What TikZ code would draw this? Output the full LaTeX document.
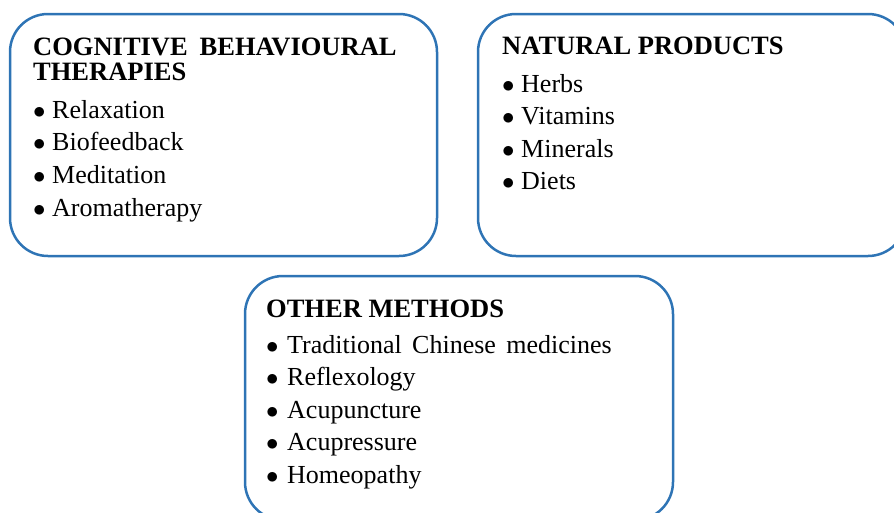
\documentclass[tikz,border=0pt]{standalone}
\usepackage{fontspec}
\setmainfont{Liberation Serif}
\definecolor{boxblue}{HTML}{2E74B5}
\tikzset{
  panel/.style={draw=boxblue, line width=2.5pt, rounded corners=38pt},
  head/.style={anchor=base west, inner sep=0pt, font=\fontsize{26.5}{26.5}\selectfont\bfseries},
  item/.style={anchor=base west, inner sep=0pt, font=\fontsize{26}{26}\selectfont},
}
\newcommand{\bul}{\makebox[19pt][l]{$\bullet$}}
\begin{document}
\begin{tikzpicture}[x=1pt,y=-1pt]
\useasboundingbox (0,0) rectangle (894,512);
% boxes
\draw[panel] (10,14) rectangle (437,256);
\draw[panel] (478,14) rectangle (906,256);
\draw[panel] (245,276) rectangle (673,520);
% box 1
\node[head] (h1a) at (33,55) {COGNITIVE\hspace{0.45em}BEHAVIOURAL};
\node[head] (h1b) at (33,80) {THERAPIES};
\node[item] (a1) at (33,118) {\bul Relaxation};
\node[item] (a2) at (33,150) {\bul Biofeedback};
\node[item] (a3) at (33,183) {\bul Meditation};
\node[item] (a4) at (33,216) {\bul Aromatherapy};
% box 2
\node[head] (h2) at (502,54) {NATURAL PRODUCTS};
\node[item] (b1) at (502,92) {\bul Herbs};
\node[item] (b2) at (502,124) {\bul Vitamins};
\node[item] (b3) at (502,157) {\bul Minerals};
\node[item] (b4) at (502,189) {\bul Diets};
% box 3
\node[head] (h3) at (266,317) {OTHER METHODS};
\node[item] (c1) at (266,353) {\makebox[21pt][l]{$\bullet$}Traditional\hspace{0.4em}Chinese\hspace{0.4em}medicines};
\node[item] (c2) at (266,385) {\makebox[21pt][l]{$\bullet$}Reflexology};
\node[item] (c3) at (266,418) {\makebox[21pt][l]{$\bullet$}Acupuncture};
\node[item] (c4) at (266,450) {\makebox[21pt][l]{$\bullet$}Acupressure};
\node[item] (c5) at (266,483) {\makebox[21pt][l]{$\bullet$}Homeopathy};
\end{tikzpicture}
\end{document}
